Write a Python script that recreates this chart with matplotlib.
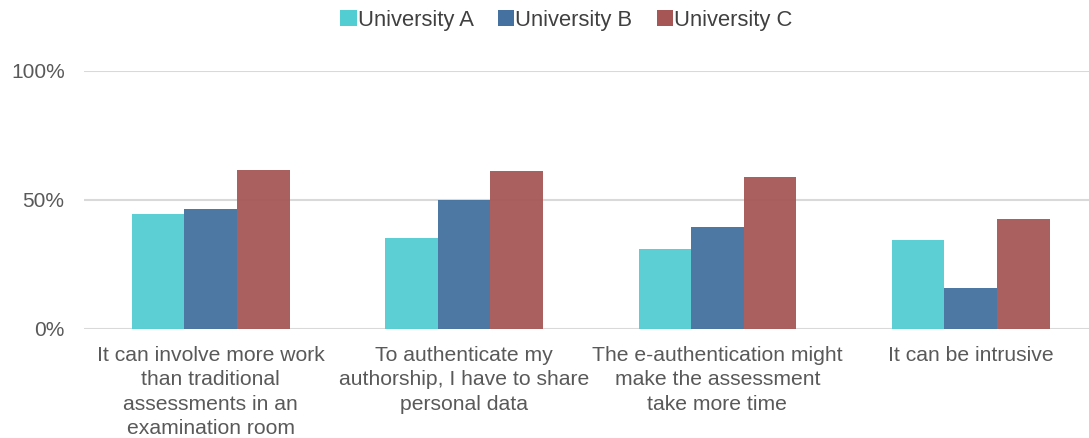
import numpy as np
import matplotlib.pyplot as plt
from matplotlib.ticker import PercentFormatter
from matplotlib.patches import Patch

plt.rcParams['font.family'] = ['Liberation Sans', 'DejaVu Sans']

# Survey data (share of respondents agreeing)
categories = [
    "It can involve more work\nthan traditional\nassessments in an\nexamination room",
    "To authenticate my\nauthorship, I have to share\npersonal data",
    "The e-authentication might\nmake the assessment\ntake more time",
    "It can be intrusive",
]
series_names = ["University A", "University B", "University C"]
uni_a = [44.5, 35.4, 31.0, 34.5]
uni_b = [46.4, 49.9, 39.4, 15.8]
uni_c = [61.7, 61.2, 58.8, 42.5]
colors = ["#52cdd2", "#44719f", "#a65755"]

fig = plt.figure(figsize=(10.89, 4.38), dpi=100)
ax = fig.add_axes([0.0772, 0.2489, 0.9305, 0.589])

x = np.arange(len(categories))
w = 0.2075
for i, (vals, c) in enumerate(zip([uni_a, uni_b, uni_c], colors)):
    ax.bar(x + (i - 1) * w, vals, width=w, color=c, alpha=0.95,
           linewidth=0, zorder=3)

ax.set_xlim(-0.5, 3.5)
ax.set_ylim(0, 100)
ax.set_yticks([0, 50, 100])
ax.yaxis.set_major_formatter(PercentFormatter(decimals=0))
ax.set_xticks(x)
ax.set_xticklabels(categories, fontsize=15.2, color="#595959", linespacing=1.37)
ax.tick_params(axis="x", length=0, pad=12)
ax.tick_params(axis="y", length=0, pad=14, labelsize=15, labelcolor="#595959")
ax.grid(axis="y", color="#d9d9d9", linewidth=1.5, zorder=0)
for s in ax.spines.values():
    s.set_visible(False)

handles = [Patch(facecolor=c, edgecolor="none") for c in colors]
fig.legend(handles, series_names, loc="center", bbox_to_anchor=(0.52, 0.953),
           ncol=3, frameon=False, fontsize=15.8, handlelength=0.75, handleheight=0.75,
           handletextpad=0.05, columnspacing=1.1, labelcolor="#404040")

fig.savefig("out.png", dpi=100)
